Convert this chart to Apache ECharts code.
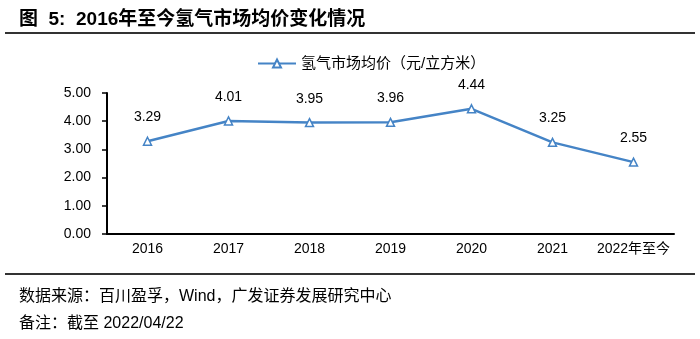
<!DOCTYPE html>
<html><head><meta charset="utf-8">
<script src="https://cdn.jsdelivr.net/npm/echarts@6/dist/echarts.min.js"></script>
<style>html,body{margin:0;padding:0;background:#fff;}#c{width:700px;height:339px;}</style>
</head><body><div id="c"></div>
<script>
const categories = ['2016','2017','2018','2019','2020','2021','2022年至今'];
const prices = [3.29, 4.01, 3.95, 3.96, 4.44, 3.25, 2.55];
const yTicks = [0, 1, 2, 3, 4, 5];
const seriesName = '氢气市场均价（元/立方米）';
const titleText = '图  5:  2016年至今氢气市场均价变化情况';
const sourceText = '数据来源：百川盈孚，Wind，广发证券发展研究中心';
const noteText = '备注：截至 2022/04/22';

const font = '"Liberation Sans", Arial, "Noto Sans CJK SC", sans-serif';
const chart = echarts.init(document.getElementById('c'), null, {renderer:'canvas'});
chart.setOption({
  backgroundColor:'#fff',
  animation:false,
  textStyle:{fontFamily:font},
  title:[
    {text:titleText, left:14, top:5,
     textStyle:{fontSize:19, fontWeight:'bold', color:'#000', fontFamily:font}},
    {text:sourceText, left:14, top:284, textStyle:{fontSize:16, fontWeight:'normal', color:'#000', fontFamily:font}},
    {text:noteText, left:14, top:311, textStyle:{fontSize:16, fontWeight:'normal', color:'#000', fontFamily:font}}
  ],
  graphic:[
    {type:'line', shape:{x1:5,y1:33,x2:695,y2:33}, style:{stroke:'#333',lineWidth:2}},
    {type:'line', shape:{x1:5,y1:274,x2:695,y2:274}, style:{stroke:'#333',lineWidth:2}}
  ],
  legend:{
    data:[seriesName], top:51, left:252,
    itemWidth:38, itemHeight:10, itemGap:4,
    textStyle:{fontSize:15, color:'#000', fontFamily:font}
  },
  grid:{left:107, right:26, top:93, bottom:105, containLabel:false},
  xAxis:{
    type:'category', data:categories, boundaryGap:true,
    axisLine:{lineStyle:{color:'#000', width:2}},
    axisTick:{show:false},
    axisLabel:{color:'#000', fontSize:14, margin:8, interval:0, fontFamily:font}
  },
  yAxis:{
    type:'value', min:0, max:5, interval:1,
    axisLine:{show:true, lineStyle:{color:'#000', width:2}},
    axisTick:{show:true, inside:false, length:5, lineStyle:{color:'#000', width:1.5}},
    splitLine:{show:false},
    axisLabel:{color:'#000', fontSize:14, margin:16, formatter:v=>v.toFixed(2), fontFamily:font}
  },
  series:[{
    name:seriesName, type:'line', data:prices,
    symbol:'triangle', symbolSize:8,
    lineStyle:{color:'#4584c6', width:2.5},
    itemStyle:{color:'#fff', borderColor:'#4584c6', borderWidth:1.5},
    label:{show:true, position:'top', distance:12, color:'#000', fontSize:14, fontFamily:font, formatter:p=>p.value.toFixed(2)}
  }]
});
</script></body></html>
